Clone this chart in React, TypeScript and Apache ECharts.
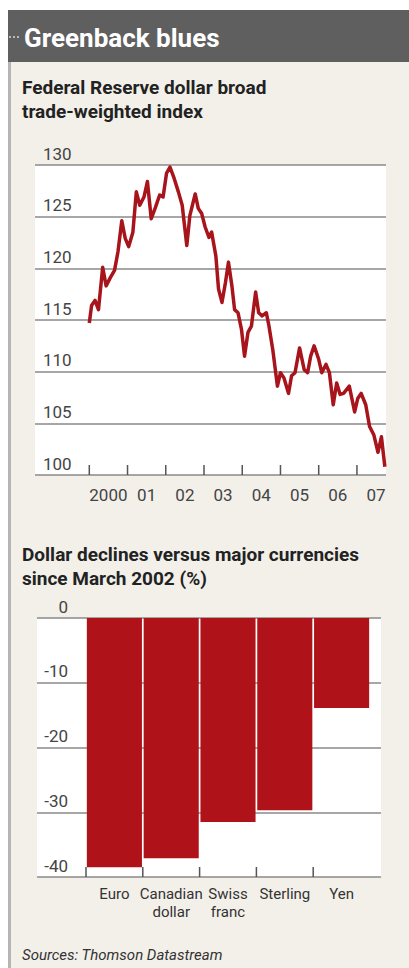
import React, { useEffect, useRef } from "react";
import * as echarts from "echarts";

// Federal Reserve broad trade-weighted dollar index
const indexDates = [
  2000.0, 2000.06, 2000.15, 2000.24, 2000.35, 2000.44, 2000.55, 2000.66, 2000.75, 2000.85,
  2000.94, 2001.03, 2001.14, 2001.23, 2001.32, 2001.43, 2001.52, 2001.62, 2001.73, 2001.84,
  2001.93, 2002.02, 2002.11, 2002.22, 2002.33, 2002.43, 2002.55, 2002.63, 2002.77, 2002.85,
  2002.94, 2003.03, 2003.13, 2003.2, 2003.31, 2003.38, 2003.47, 2003.56, 2003.64, 2003.73,
  2003.8, 2003.89, 2003.98, 2004.06, 2004.15, 2004.24, 2004.35, 2004.43, 2004.52, 2004.63,
  2004.7, 2004.8, 2004.92, 2005.0, 2005.09, 2005.21, 2005.29, 2005.38, 2005.5, 2005.62,
  2005.71, 2005.79, 2005.88, 2006.0, 2006.08, 2006.19, 2006.28, 2006.38, 2006.47, 2006.56,
  2006.65, 2006.8, 2006.94, 2007.02, 2007.11, 2007.23, 2007.33, 2007.44, 2007.55, 2007.64,
  2007.73,
];
const indexValues = [
  114.7, 116.4, 116.9, 116.0, 120.1, 118.3, 119.1, 119.8, 121.6, 124.6,
  122.9, 122.1, 123.5, 127.4, 126.1, 126.9, 128.4, 124.8, 125.9, 127.1,
  126.9, 129.2, 129.8, 128.7, 127.4, 126.1, 122.2, 125.1, 127.2, 125.8,
  125.3, 124.0, 123.0, 123.5, 121.2, 118.0, 116.7, 118.6, 120.6, 118.3,
  116.0, 115.7, 114.1, 111.5, 113.8, 114.4, 117.7, 115.7, 115.4, 115.7,
  114.4, 112.1, 108.6, 109.9, 109.4, 107.9, 109.6, 109.9, 112.3, 110.2,
  109.9, 111.5, 112.5, 111.2, 109.9, 110.7, 109.9, 106.8, 108.9, 107.8,
  107.9, 108.6, 106.1, 107.4, 107.9, 106.8, 104.7, 103.9, 102.2, 103.7,
  100.8,
];
const yearTicks = [2000, 2001, 2002, 2003, 2004, 2005, 2006, 2007];
const yearLabels = ["2000", "01", "02", "03", "04", "05", "06", "07"];

// Dollar declines versus major currencies since March 2002 (%)
const currencies = ["Euro", "Canadian\ndollar", "Swiss\nfranc", "Sterling", "Yen"];
const declines = [-38.5, -37.1, -31.5, -29.7, -13.9];

const FONT = "Roboto, 'Liberation Sans', sans-serif";
const RED_LINE = "#a8141c";
const RED_BAR = "#b0121a";
const GRID = "#8a8a8a";
const LABEL = "#444";

export default function App() {
  const ref = useRef<HTMLDivElement>(null);
  useEffect(() => {
    if (!ref.current) return;
    const chart = echarts.init(ref.current, undefined, { renderer: "svg" });
    const option: any = {
      animation: false,
      backgroundColor: "#ffffff",
      graphic: [
        { type: "rect", z: -10, shape: { x: 11, y: 60, width: 398, height: 908 }, style: { fill: "#f3f0ea" } },
        { type: "rect", z: -9, shape: { x: 8, y: 60, width: 3, height: 908 }, style: { fill: "#b5b5b5" } },
        { type: "rect", z: -8, shape: { x: 8, y: 10, width: 401, height: 52 }, style: { fill: "#5f5f5f" } },
        { type: "line", z: -7, shape: { x1: 9, y1: 37, x2: 19, y2: 37 }, style: { stroke: "#d8d8d8", lineWidth: 1.5, lineDash: [2, 2] } },
        { type: "text", x: 24, y: 38, style: { text: "Greenback blues", font: `bold 26px ${FONT}`, fill: "#ffffff", verticalAlign: "middle" } },
        { type: "text", x: 22, y: 87, style: { text: "Federal Reserve dollar broad", font: `bold 19px ${FONT}`, fill: "#222", verticalAlign: "middle" } },
        { type: "text", x: 22, y: 111, style: { text: "trade-weighted index", font: `bold 19px ${FONT}`, fill: "#222", verticalAlign: "middle" } },
        { type: "text", x: 22, y: 554, style: { text: "Dollar declines versus major currencies", font: `bold 19px ${FONT}`, fill: "#222", verticalAlign: "middle" } },
        { type: "text", x: 22, y: 578, style: { text: "since March 2002 (%)", font: `bold 19px ${FONT}`, fill: "#222", verticalAlign: "middle" } },
        { type: "text", x: 22, y: 955, style: { text: "Sources: Thomson Datastream", font: `italic 15px ${FONT}`, fill: "#333", verticalAlign: "middle" } },
      ],
      grid: [
        { left: 35, right: 23, top: 165, bottom: 493, show: true, backgroundColor: "#ffffff", borderWidth: 0 },
        { left: 37, right: 28, top: 618, bottom: 91, show: true, backgroundColor: "#ffffff", borderWidth: 0 },
        { left: 86, right: 39, top: 618, bottom: 91 },
      ],
      xAxis: [
        { gridIndex: 0, type: "value", min: 1998.58, max: 2007.76, show: false },
        { gridIndex: 1, type: "value", min: 0, max: 1, show: false },
        {
          gridIndex: 2,
          type: "category",
          data: currencies,
          position: "bottom",
          axisLine: { show: false, onZero: false },
          axisTick: { show: false },
          axisLabel: { interval: 0, hideOverlap: false, margin: 8, fontSize: 15, lineHeight: 18, color: "#333", fontFamily: FONT },
        },
      ],
      yAxis: [
        {
          gridIndex: 0,
          type: "value",
          min: 100,
          max: 130,
          interval: 5,
          axisLine: { show: false },
          axisTick: { show: false },
          splitLine: { show: true, lineStyle: { color: GRID, width: 1.6 } },
          axisLabel: {
            inside: true,
            margin: 8,
            align: "left",
            verticalAlign: "bottom",
            padding: [0, 0, 3, 0],
            fontSize: 17,
            color: LABEL,
            fontFamily: FONT,
          },
        },
        {
          gridIndex: 1,
          type: "value",
          min: -40,
          max: 0,
          interval: 10,
          axisLine: { show: false },
          axisTick: { show: false },
          splitLine: { show: true, lineStyle: { color: GRID, width: 1.6 } },
          axisLabel: {
            inside: true,
            margin: 31,
            align: "right",
            verticalAlign: "bottom",
            padding: [0, 0, 3, 0],
            fontSize: 17,
            color: LABEL,
            fontFamily: FONT,
          },
        },
        { gridIndex: 2, type: "value", min: -40, max: 0, show: false },
      ],
      series: [
        {
          type: "line",
          xAxisIndex: 0,
          yAxisIndex: 0,
          data: indexDates.map((d, i) => [d, indexValues[i]]),
          showSymbol: false,
          lineStyle: { color: RED_LINE, width: 3.5, join: "round" },
          z: 5,
        },
        {
          type: "custom",
          xAxisIndex: 0,
          yAxisIndex: 0,
          data: yearTicks.map((y) => [y, 100]),
          renderItem: (params: any, api: any) => {
            const yr = api.value(0);
            const p = api.coord([yr, 100]);
            const m = api.coord([yr + 0.5, 100]);
            return {
              type: "group",
              children: [
                { type: "line", shape: { x1: p[0], y1: p[1], x2: p[0], y2: p[1] - 10 }, style: { stroke: "#555", lineWidth: 1.5 } },
                {
                  type: "text",
                  x: m[0],
                  y: p[1] + 20,
                  style: { text: yearLabels[params.dataIndex], fill: LABEL, font: `17px ${FONT}`, align: "center", verticalAlign: "middle" },
                },
              ],
            };
          },
          z: 4,
        },
        {
          type: "bar",
          xAxisIndex: 2,
          yAxisIndex: 2,
          data: declines,
          barCategoryGap: "3%",
          itemStyle: { color: RED_BAR },
          z: 3,
        },
        {
          type: "custom",
          xAxisIndex: 2,
          yAxisIndex: 2,
          data: currencies.map((_, i) => [i, -40]),
          renderItem: (params: any, api: any) => {
            const c = api.coord([api.value(0), -40]);
            const bw = api.size([1, 0])[0];
            const x = c[0] - bw / 2;
            return { type: "line", shape: { x1: x, y1: c[1], x2: x, y2: c[1] - 10 }, style: { stroke: "#555", lineWidth: 1.5 } };
          },
          z: 4,
        },
      ],
    };
    chart.setOption(option);
    return () => chart.dispose();
  }, []);
  return <div ref={ref} style={{ position: "fixed", left: 0, top: 0, width: 409, height: 968 }} />;
}
